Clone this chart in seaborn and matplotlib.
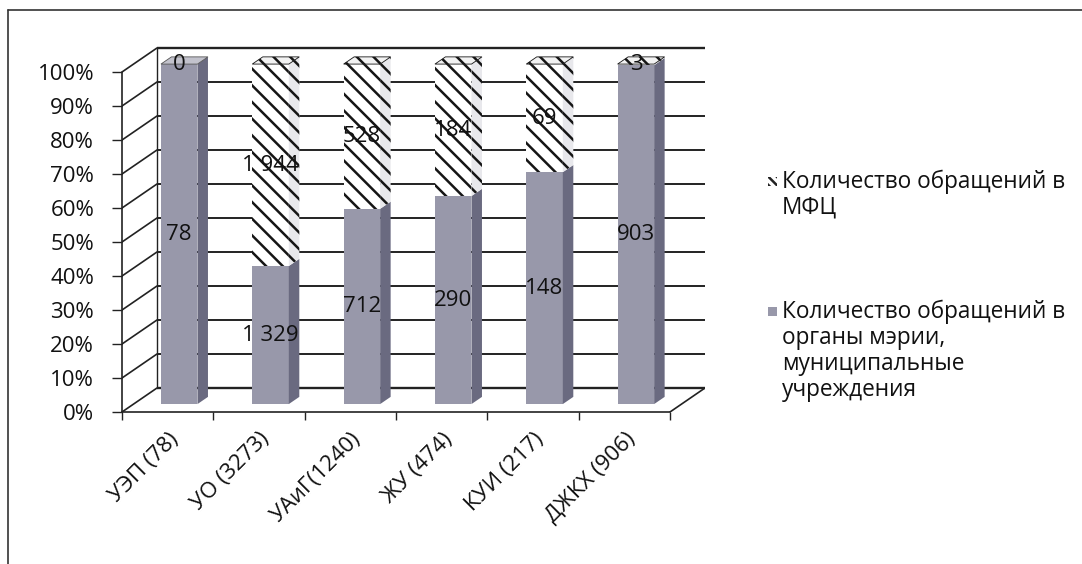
import numpy as np
import pandas as pd
import matplotlib
matplotlib.use("Agg")
import matplotlib.pyplot as plt
from matplotlib.patches import Polygon, Rectangle
from matplotlib.lines import Line2D
from matplotlib.transforms import Affine2D
import seaborn as sns

# ---- data -------------------------------------------------------------
categories = ["УЭП (78)", "УО (3273)", "УАиГ(1240)", "ЖУ (474)", "КУИ (217)", "ДЖКХ (906)"]
mfc_counts = [0, 1944, 528, 184, 69, 3]            # обращения в МФЦ
office_counts = [78, 1329, 712, 290, 148, 903]     # обращения в органы мэрии
series_names = ["Количество обращений в\nМФЦ",
                "Количество обращений в\nорганы мэрии,\nмуниципальные\nучреждения"]
y_ticks = list(range(0, 101, 10))

# ---- style ------------------------------------------------------------
sns.set_theme(style="white")
plt.rcParams["font.family"] = ["Open Sans", "DejaVu Sans"]
plt.rcParams["hatch.linewidth"] = 1.8

W, H = 1082, 564
fig = plt.figure(figsize=(W / 100, H / 100), dpi=100)

OFFICE = "#9898aa"
OFFICE_SIDE = "#6a6a80"
OFFICE_TOP = "#c2c2cc"
HATCH_SIDE = "#e8e8ec"
LINE = "#222222"
TEXT = "#111111"

df = pd.DataFrame({"cat": categories, "mfc": mfc_counts, "office": office_counts})
df["total"] = df["mfc"] + df["office"]
df["office_pct"] = df["office"] / df["total"] * 100
df["mfc_pct"] = df["mfc"] / df["total"] * 100
df["full"] = df["office_pct"] + df["mfc_pct"]

n = len(categories)
# oblique depth of the plot box (in data units) and bar placement within it
DX, DY = 0.383, 7.06
F0, BD = 0.33, 0.30
ox, oy = F0 * DX, F0 * DY
bdx, bdy = BD * DX, BD * DY

# axes: front-left corner of the floor at (122, 412) px
px_per_cat = 548 / n
px_per_pct = 3.4
ymax = 108
left = 122 / W
width = px_per_cat * (n + DX) / W
bottom = (H - 412) / H
height = px_per_pct * ymax / H
ax = fig.add_axes([left, bottom, width, height])

# ---- bars (front faces) -----------------------------------------------
sns.barplot(data=df, x="cat", y="full", color="white", saturation=1, width=0.4,
            hatch="\\\\", edgecolor="#151515", linewidth=0, ax=ax, zorder=2)
sns.barplot(data=df, x="cat", y="office_pct", color=OFFICE, saturation=1, width=0.4,
            edgecolor=OFFICE, linewidth=0, ax=ax, zorder=2)

shift = Affine2D().translate(ox, oy) + ax.transData
full_bars = ax.containers[0].patches
office_bars = ax.containers[1].patches
for p in list(full_bars) + list(office_bars):
    p.set_transform(shift)

# side and top faces derived from each bar
for pf, po, mfc in zip(full_bars, office_bars, df["mfc"]):
    x0, w = po.get_x(), po.get_width()
    h_off, h_full = po.get_height(), pf.get_height()
    xr = x0 + w
    side_off = Polygon([(xr, 0), (xr + bdx, bdy), (xr + bdx, h_off + bdy), (xr, h_off)],
                       closed=True, facecolor=OFFICE_SIDE, edgecolor="none",
                       transform=shift, zorder=2)
    ax.add_patch(side_off)
    if h_full - h_off > 0:
        side_mfc = Polygon([(xr, h_off), (xr + bdx, h_off + bdy),
                            (xr + bdx, h_full + bdy), (xr, h_full)],
                           closed=True, facecolor=HATCH_SIDE, edgecolor="#151515",
                           linewidth=0, hatch="\\\\", transform=shift, zorder=2)
        ax.add_patch(side_mfc)
    top_kw = dict(facecolor=OFFICE_TOP, edgecolor="#555555", linewidth=0.6)
    if mfc > 0:
        top_kw = dict(facecolor="#f2f2f2", edgecolor="#151515", linewidth=0.6, hatch="\\\\")
    top = Polygon([(x0, h_full), (xr, h_full), (xr + bdx, h_full + bdy), (x0 + bdx, h_full + bdy)],
                  closed=True, transform=shift, zorder=2, **top_kw)
    ax.add_patch(top)

# ---- value labels -----------------------------------------------------
def fmt(v):
    return f"{v:,}".replace(",", " ")

for i, row in df.iterrows():
    y_off = row["office_pct"] / 2
    y_mfc = row["office_pct"] + row["mfc_pct"] / 2
    ax.text(i + ox, y_off + oy, fmt(row["office"]), ha="center", va="center",
            fontsize=16, color=TEXT, zorder=6)
    ax.text(i + ox, y_mfc + oy, fmt(row["mfc"]), ha="center", va="center",
            fontsize=16, color=TEXT, zorder=6)

# ---- plot box: back wall, side wall, floor ----------------------------
xl, xr_ = -0.5, n - 0.5
for v in y_ticks:
    lw = 1.7 if v in (0, 100) else 1.4
    ax.plot([xl + DX, xr_ + DX], [v + DY, v + DY], color=LINE, lw=lw, zorder=0.5,
            solid_capstyle="butt")
    ax.plot([xl, xl + DX], [v, v + DY], color=LINE, lw=1.2, zorder=0.5)
ax.plot([xl + DX, xl + DX], [DY, 100 + DY], color=LINE, lw=1.0, zorder=0.5)
ax.plot([xr_, xr_ + DX], [0, DY], color=LINE, lw=1.2, zorder=0.5)

ax.set_xlim(xl, xr_ + DX)
ax.set_ylim(0, ymax)

for s in ("top", "right"):
    ax.spines[s].set_visible(False)
ax.spines["left"].set_bounds(0, 100)
ax.spines["bottom"].set_bounds(xl, xr_)
for s in ("left", "bottom"):
    ax.spines[s].set_color(LINE)
    ax.spines[s].set_linewidth(1.2)

ax.set_yticks(y_ticks)
ax.set_yticklabels([f"{v}%" for v in y_ticks])
ax.tick_params(axis="y", left=True, length=7, width=1, color=LINE, pad=13,
               labelsize=16, labelcolor=TEXT)

ax.set_xticks(np.arange(n))
ax.set_xticklabels(categories, rotation=45, ha="right", rotation_mode="anchor")
ax.set_xticks(np.arange(-0.5, n), minor=True)
ax.tick_params(axis="x", which="major", bottom=True, length=0, pad=12,
               labelsize=16, labelcolor=TEXT)
ax.tick_params(axis="x", which="minor", bottom=True, length=6, width=1, color=LINE)
ax.set_xlabel("")
ax.set_ylabel("")
ax.grid(False)

# ---- legend -----------------------------------------------------------
def fx(x):
    return x / W

def fy(y):
    return 1 - y / H

legend_rows = [(182, "mfc"), (312, "office")]
for (y0, kind), name in zip(legend_rows, series_names):
    if kind == "mfc":
        mk = Rectangle((fx(768), fy(y0 + 4)), 9 / W, 9 / H, transform=fig.transFigure,
                       facecolor="white", edgecolor="#222222", linewidth=0,
                       hatch="\\\\\\\\")
    else:
        mk = Rectangle((fx(768), fy(y0 + 4)), 9 / W, 9 / H, transform=fig.transFigure,
                       facecolor=OFFICE, edgecolor="none")
    fig.add_artist(mk)
    for k, line in enumerate(name.split("\n")):
        fig.text(fx(782), fy(y0 + 26 * k), line, ha="left", va="center",
                 fontsize=16.3, color=TEXT)

# ---- outer frame ------------------------------------------------------
fig.add_artist(Line2D([fx(8), fx(8)], [0, fy(10)], transform=fig.transFigure,
                      color="#333333", lw=1.2))
fig.add_artist(Line2D([fx(8), 1], [fy(10), fy(10)], transform=fig.transFigure,
                      color="#333333", lw=1.2))

fig.savefig("out.png", dpi=100, facecolor="white")
